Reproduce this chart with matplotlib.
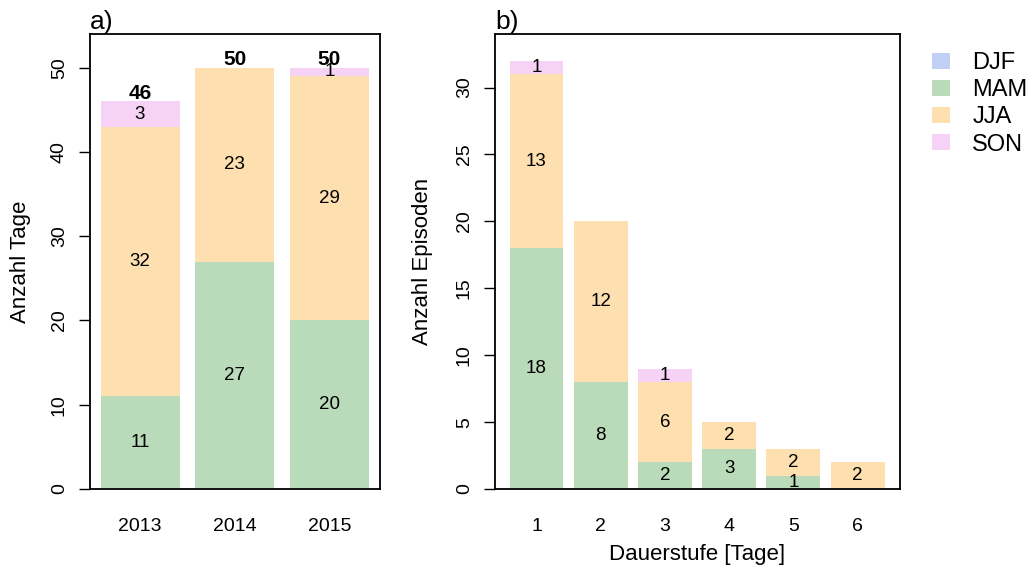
import numpy as np
import matplotlib.pyplot as plt
from matplotlib.patches import Patch

plt.rcParams['font.family'] = ['Liberation Sans', 'DejaVu Sans']

# Jahreswerte (Anzahl Tage je Saison)
jahre = ['2013', '2014', '2015']
tage_djf = [0, 0, 0]
tage_mam = [11, 27, 20]
tage_jja = [32, 23, 29]
tage_son = [3, 0, 1]

# Episoden je Dauerstufe
dauer = ['1', '2', '3', '4', '5', '6']
epi_djf = [0, 0, 0, 0, 0, 0]
epi_mam = [18, 8, 2, 3, 1, 0]
epi_jja = [13, 12, 6, 2, 2, 2]
epi_son = [1, 0, 1, 0, 0, 0]

saisons = ['DJF', 'MAM', 'JJA', 'SON']
farben = ['#c1cff4', '#b9dbba', '#fee0b0', '#f6d3f6']

W, H = 1034, 569
fig = plt.figure(figsize=(W / 100, H / 100), dpi=100)


def px_axes(x0, y0, x1, y1):
    return fig.add_axes([x0 / W, 1 - y1 / H, (x1 - x0) / W, (y1 - y0) / H])


def gestapelt(ax, reihen, breite):
    x = np.arange(len(reihen[0]))
    unten = np.zeros(len(x))
    for werte, farbe in zip(reihen, farben):
        werte = np.array(werte, dtype=float)
        ax.bar(x, werte, breite, bottom=unten, color=farbe, linewidth=0)
        for xi, w, u in zip(x, werte, unten):
            if w > 0:
                ax.text(xi, u + w / 2, f'{int(w)}', ha='center', va='center',
                        fontsize=13.5)
        unten += werte
    return x, unten


def achsen_stil(ax, yticks):
    ax.set_yticks(yticks)
    ax.set_yticklabels([str(t) for t in yticks], rotation=90, va='center')
    ax.tick_params(axis='y', length=8, width=1, pad=8, labelsize=14)
    ax.tick_params(axis='x', length=0, pad=21, labelsize=14)
    for s in ax.spines.values():
        s.set_linewidth(1.3)


# a) Anzahl Tage pro Jahr
ax1 = px_axes(90, 34, 380, 489)
x1, summe = gestapelt(ax1, [tage_djf, tage_mam, tage_jja, tage_son], 0.834)
for xi, s in zip(x1, summe):
    ax1.text(xi, s + 0.3, f'{int(s)}', ha='center', va='baseline',
             fontsize=15, fontweight='bold')
ax1.set_xlim(-0.528, 2.533)
ax1.set_ylim(0, 54)
ax1.set_xticks(x1)
ax1.set_xticklabels(jahre)
achsen_stil(ax1, [0, 10, 20, 30, 40, 50])
ax1.set_ylabel('Anzahl Tage', fontsize=16)
ax1.yaxis.set_label_coords(-0.205, 0.5)
ax1.set_title('a)', loc='left', fontsize=19, pad=1)

# b) Anzahl Episoden pro Dauerstufe
ax2 = px_axes(495, 34, 900, 489)
x2, _ = gestapelt(ax2, [epi_djf, epi_mam, epi_jja, epi_son], 0.84)
ax2.set_xlim(-0.646, 5.66)
ax2.set_ylim(0, 34)
ax2.set_xticks(x2)
ax2.set_xticklabels(dauer)
achsen_stil(ax2, [0, 5, 10, 15, 20, 25, 30])
ax2.set_ylabel('Anzahl Episoden', fontsize=16)
ax2.yaxis.set_label_coords(-0.152, 0.5)
ax2.set_xlabel('Dauerstufe [Tage]', fontsize=16)
ax2.xaxis.set_label_coords(0.5, -0.12)
ax2.set_title('b)', loc='left', fontsize=19, pad=1)

# Legende
handles = [Patch(facecolor=f, edgecolor='none') for f in farben]
fig.legend(handles, saisons, loc='upper left', bbox_to_anchor=(932 / W, 1 - 52 / H),
           frameon=False, fontsize=17, handlelength=0.76, handleheight=0.68,
           handletextpad=0.95, labelspacing=0.22, borderpad=0, borderaxespad=0)

fig.savefig('out.png', dpi=100)
